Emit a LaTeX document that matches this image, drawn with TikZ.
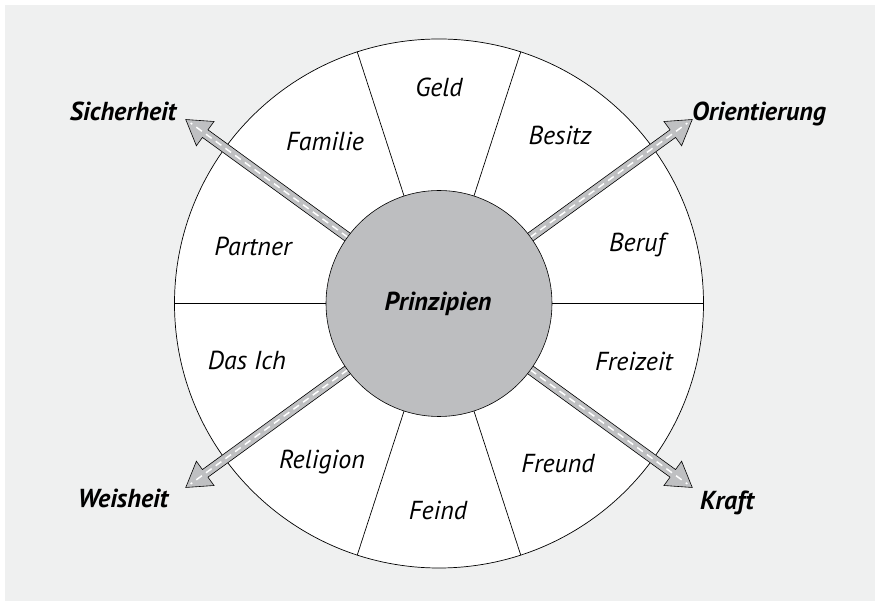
\documentclass[tikz,border=0pt]{standalone}
\usepackage{fontspec}
\setmainfont{PT Sans}
\definecolor{bggray}{HTML}{EFF0F0}
\definecolor{hubgray}{HTML}{BDBEC0}
\definecolor{arrowgray}{HTML}{BFC0C2}
\begin{document}
\begin{tikzpicture}[x=1pt,y=1pt,
  lbl/.style={inner sep=0pt, text height=18pt, text depth=0pt, font=\fontsize{26}{30}\selectfont\itshape},
  blbl/.style={lbl, font=\fontsize{26}{30}\selectfont\bfseries\itshape},
  sep/.style={draw=black, line width=0.7pt}
]
\useasboundingbox (-439,-297.5) rectangle (436,303.5);
\fill[white] (-439,-297.5) rectangle (436,303.5);
\fill[bggray] (-434,-297.5) rectangle (436,298.5);
\node[circle, draw=black, line width=0.7pt, fill=white, minimum size=529pt, inner sep=0pt] (outer) at (0,0) {};
\foreach \a in {0,72,108,180,252,288} \draw[sep] (0,0) ++(\a:112) -- (outer.\a);
% arrows
\foreach \a/\n in {36/ori,144/sic,216/wei,324/kra} {
  \begin{scope}[rotate=\a]
    \coordinate (tip\n) at (313,0);
    \filldraw[fill=arrowgray, draw=black, line width=0.6pt, line join=miter]
      (100,-4.7) -- (289,-4.7) -- (289,-15) -- (tip\n) -- (289,15) -- (289,4.7) -- (100,4.7) -- cycle;
    \draw[white, line width=1.5pt, dash pattern=on 7pt off 5pt] (113,0) -- (307,0);
  \end{scope}
}
\node[circle, draw=black, line width=0.6pt, fill=hubgray, minimum size=226pt, inner sep=0pt] (hub) at (0,0) {};
\node[blbl] (prin) at (-1,1.5) {Prinzipien};
\node[lbl] (geld) at (0,215.5) {Geld};
\node[lbl] (fam) at (-114,161.5) {Familie};
\node[lbl] (bes) at (121,167.5) {Besitz};
\node[lbl] (par) at (-186,56.5) {Partner};
\node[lbl] (ber) at (198,60.5) {Beruf};
\node[lbl] (ich) at (-192,-57.5) {Das Ich};
\node[lbl] (fre) at (195,-58.5) {Freizeit};
\node[lbl] (rel) at (-117,-156.5) {Religion};
\node[lbl] (fru) at (119,-160.5) {Freund};
\node[lbl] (fei) at (-1,-207.5) {Feind};
\node[blbl] (sich) at (-316,191.5) {Sicherheit};
\node[blbl] (orie) at (320,191.5) {Orientierung};
\node[blbl] (weis) at (-316,-195.5) {Weisheit};
\node[blbl] (kraf) at (288,-197.5) {Kraft};
\end{tikzpicture}
\end{document}
